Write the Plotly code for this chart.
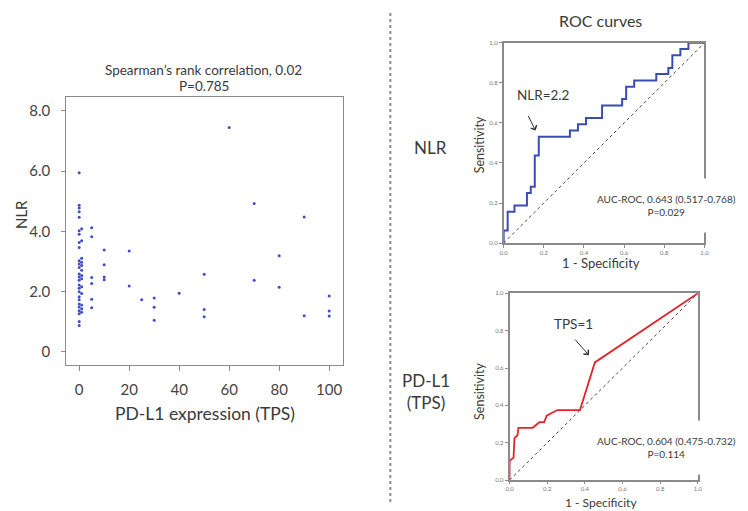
import plotly.graph_objects as go

# ---------------- data ----------------
# Scatter: PD-L1 expression (TPS) vs NLR
tps_values = ([0] * 26 + [1] * 13 + [5] * 6 + [10] * 4 + [20] * 2 + [25] + [30] * 3 +
              [40] + [50] * 3 + [60] + [70] * 2 + [80] * 2 + [90] * 2 + [100] * 3)
nlr_values = [
    # TPS 0
    5.95, 4.87, 4.78, 4.65, 4.47, 4.02, 3.91, 3.63, 3.47, 3.03, 2.92, 2.80, 2.59,
    2.49, 2.38, 2.22, 2.11, 2.00, 1.83, 1.73, 1.59, 1.49, 1.37, 1.27, 1.01, 0.88,
    # TPS 1
    4.09, 3.69, 3.11, 2.98, 2.87, 2.71, 2.54, 2.43, 2.16, 1.94, 1.56, 1.43, 1.32,
    # TPS 5
    4.12, 3.82, 2.47, 2.27, 1.75, 1.47,
    # TPS 10
    3.38, 2.89, 2.49, 2.40,
    # TPS 20
    3.35, 2.19,
    # TPS 25
    1.73,
    # TPS 30
    1.79, 1.48, 1.05,
    # TPS 40
    1.95,
    # TPS 50
    2.58, 1.41, 1.17,
    # TPS 60
    7.45,
    # TPS 70
    4.93, 2.38,
    # TPS 80
    3.19, 2.15,
    # TPS 90
    4.48, 1.20,
    # TPS 100
    1.86, 1.36, 1.19,
]
scatter_xticks = [0, 20, 40, 60, 80, 100]
scatter_yticks = [0, 2, 4, 6, 8]
scatter_yticktext = ["0", "2.0", "4.0", "6.0", "8.0"]

# ROC curve for NLR (step curve, corner points)
nlr_fpr = [0, 0, 0.02, 0.054, 0.116, 0.135, 0.155, 0.175, 0.33, 0.37, 0.41, 0.49,
           0.59, 0.61, 0.65, 0.76, 0.82, 0.84, 0.88, 0.92, 1.0]
nlr_tpr = [0, 0.0625, 0.156, 0.1875, 0.25, 0.281, 0.4375, 0.531, 0.5625, 0.594, 0.625,
           0.6875, 0.719, 0.781, 0.8125, 0.844, 0.875, 0.9375, 0.969, 1.0, 1.0]

# ROC curve for PD-L1 (TPS)
tps_fpr = [0, 0, 0.008, 0.021, 0.026, 0.042, 0.047, 0.123, 0.158, 0.184, 0.197,
           0.254, 0.374, 0.453, 1.0]
tps_tpr = [0, 0.10, 0.11, 0.12, 0.225, 0.24, 0.28, 0.28, 0.31, 0.31, 0.345,
           0.375, 0.375, 0.63, 1.0]

diag = [0, 1]
roc_ticks = [0, 0.2, 0.4, 0.6, 0.8, 1.0]
roc_ticktext = ["0.0", "0.2", "0.4", "0.6", "0.8", "1.0"]

# ---------------- figure ----------------
# The page body has an 8px margin, so the figure is drawn 8px smaller and
# every layout position below is given in window pixels minus that offset.
OFF = 8
W, H = 748 - OFF, 511 - OFF
FONT = "Lato, Carlito, 'Liberation Sans', sans-serif"
TXT = "#3a3a3a"


def px(x):
    return (x - OFF) / W


def py(y):
    return 1 - (y - OFF) / H


fig = go.Figure()

fig.add_trace(go.Scatter(x=tps_values, y=nlr_values, mode="markers",
                         marker=dict(size=3, color="#3d4ec6"),
                         xaxis="x", yaxis="y", showlegend=False, hoverinfo="x+y"))

fig.add_trace(go.Scatter(x=diag, y=diag, mode="lines",
                         line=dict(color="#444444", width=1, dash="dot"),
                         xaxis="x2", yaxis="y2", showlegend=False))
fig.add_trace(go.Scatter(x=nlr_fpr, y=nlr_tpr, mode="lines", line_shape="hv",
                         line=dict(color="#3a4db4", width=2),
                         xaxis="x2", yaxis="y2", showlegend=False))

fig.add_trace(go.Scatter(x=diag, y=diag, mode="lines",
                         line=dict(color="#444444", width=1, dash="dot"),
                         xaxis="x3", yaxis="y3", showlegend=False))
fig.add_trace(go.Scatter(x=tps_fpr, y=tps_tpr, mode="lines",
                         line=dict(color="#e0262b", width=1.8),
                         xaxis="x3", yaxis="y3", showlegend=False))

axis_common = dict(showgrid=False, zeroline=False, showline=True, mirror=True,
                   ticks="outside", fixedrange=True)

roc_axis = dict(axis_common, range=[0, 1], tickvals=roc_ticks, ticktext=roc_ticktext,
                tickfont=dict(size=6, color="#777777", family=FONT),
                linecolor="#8a8a8a", linewidth=1.5, ticklen=3, tickcolor="#8a8a8a")

fig.update_layout(
    width=W, height=H,
    margin=dict(l=0, r=0, t=0, b=0),
    paper_bgcolor="white", plot_bgcolor="white",
    font=dict(family=FONT, color=TXT),
    xaxis=dict(axis_common, domain=[px(63), px(343)], range=[-5.14, 105.5],
               anchor="y", tickvals=scatter_xticks,
               tickfont=dict(size=15, color="#444444"), linecolor="#8a8a8a", linewidth=1.3,
               ticklen=5, tickcolor="#8a8a8a", ticklabelstandoff=6),
    yaxis=dict(axis_common, domain=[py(366), py(93.7)], range=[-0.435, 8.48],
               anchor="x", tickvals=scatter_yticks, ticktext=scatter_yticktext,
               tickfont=dict(size=15, color="#444444"), linecolor="#8a8a8a", linewidth=1.3,
               ticklen=4, tickcolor="#8a8a8a", ticklabelstandoff=8),
    xaxis2=dict(roc_axis, domain=[px(505.7), px(709)], anchor="y2"),
    yaxis2=dict(roc_axis, domain=[py(242.3), py(39.3)], anchor="x2"),
    xaxis3=dict(roc_axis, domain=[px(511.7), px(702.3)], anchor="y3", ticklen=2),
    yaxis3=dict(roc_axis, domain=[py(482.7), py(293.3)], anchor="x3"),
)

ann = []


def label(text, x, y, size, angle=0, color=TXT, **kw):
    ann.append(dict(text=text, x=px(x), y=py(y), xref="paper", yref="paper",
                    showarrow=False, textangle=angle, xanchor="center", yanchor="middle",
                    font=dict(size=size, color=color, family=FONT), **kw))


# scatter texts
label("Spearman’s rank correlation, 0.02", 202, 67, 13.5)
label("P=0.785", 202, 83, 13.5)
label("NLR", 17, 213, 15, angle=-90)
label("PD-L1 expression (TPS)", 203, 415, 17.5)

# ROC texts
label("ROC curves", 604, 17, 16)
label("NLR", 432, 145, 17)
label("PD-L1<br>(TPS)", 427, 393, 17)
label("Sensitivity", 481, 143, 12.5, angle=-90)
label("Sensitivity", 481, 393, 12.5, angle=-90)
label("1 - Specificity", 604, 263, 13)
ann.append(dict(text="1 - Specificity", x=px(604), y=0, xref="paper", yref="paper",
                showarrow=False, xanchor="center", yanchor="bottom", yshift=-3,
                borderpad=0, font=dict(size=12, color=TXT, family=FONT)))
label("AUC-ROC, 0.643 (0.517-0.768)<br>P=0.029", 671, 204, 10,
      bgcolor="white", borderpad=14)
label("AUC-ROC, 0.604 (0.475-0.732)<br>P=0.114", 671, 450, 10,
      bgcolor="white", borderpad=14)
label("NLR=2.2", 546, 92, 13.5)
label("TPS=1", 576, 324, 13.5)

# arrows
ann.append(dict(text="", x=0.159, y=0.562, xref="x2", yref="y2", showarrow=True,
                ax=-8, ay=-16, arrowhead=4, arrowsize=1.3, arrowwidth=1, arrowcolor="#333333"))
ann.append(dict(text="", x=0.421, y=0.669, xref="x3", yref="y3", showarrow=True,
                ax=-15, ay=-17, arrowhead=4, arrowsize=1.3, arrowwidth=1, arrowcolor="#333333"))

fig.update_layout(annotations=ann)

# dotted separator
fig.add_shape(type="line", xref="paper", yref="paper", x0=px(391), x1=px(391),
              y0=py(9), y1=py(505), line=dict(color="#8c8c8c", width=2, dash="dot"))

fig.write_html("out.html")
